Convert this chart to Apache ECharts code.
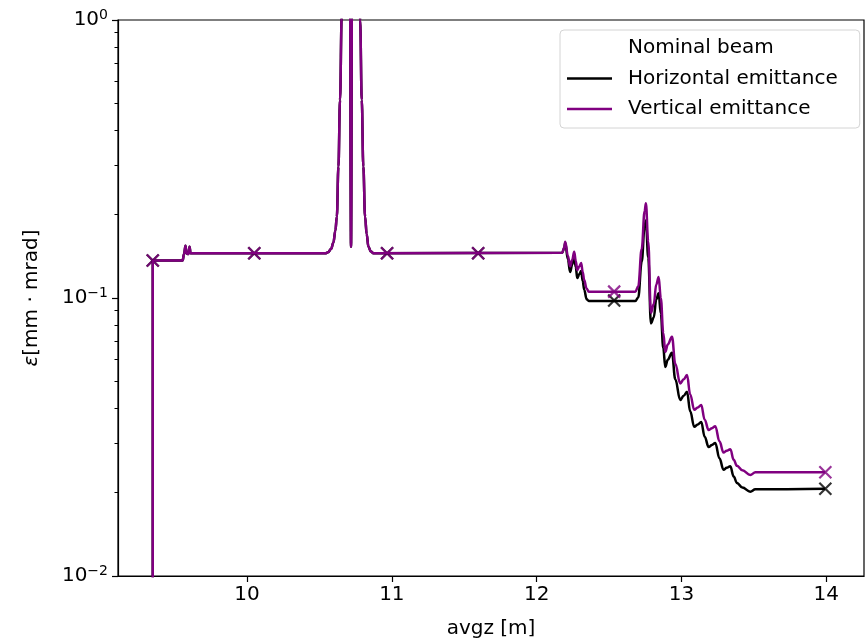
<!DOCTYPE html>
<html>
<head>
<meta charset="utf-8">
<script src="https://cdn.jsdelivr.net/npm/echarts@6/dist/echarts.min.js"></script>
<style>html,body{margin:0;padding:0;background:#fff}#c{width:867px;height:640px}</style>
</head>
<body>
<div id="c"></div>
<script>
// Shared z positions (m) before the two emittances separate
const zShared = [9.349, 9.349, 9.555, 9.565, 9.575, 9.582, 9.595, 9.603, 9.610,
  10.540, 10.560, 10.580, 10.596, 10.610, 10.620, 10.631, 10.642, 10.654, 10.665, 10.700,
  10.709, 10.718, 10.727, 10.770, 10.781, 10.792, 10.803, 10.815, 10.826, 10.838, 10.855, 10.873,
  12.176];
const epsShared = [0.001, 0.1364, 0.1364, 0.1440, 0.1540, 0.1445, 0.1440, 0.1530, 0.1448,
  0.1448, 0.1460, 0.150, 0.158, 0.175, 0.196, 0.297, 0.515, 1.05, 2.5, 3.0,
  3.0, 0.153, 3.0, 2.5, 1.0, 0.515, 0.297, 0.196, 0.170, 0.153, 0.147, 0.1448,
  0.1455];

// Region where horizontal and vertical emittance differ
const zSplit = [12.190, 12.197, 12.215, 12.231, 12.245, 12.259, 12.270, 12.280, 12.295, 12.307,
  12.318, 12.328, 12.345, 12.360, 12.681, 12.701, 12.725, 12.745, 12.754, 12.770,
  12.789, 12.808, 12.826, 12.842, 12.857, 12.874, 12.888, 12.905, 12.934, 12.957,
  12.991, 13.015, 13.038, 13.060, 13.088, 13.112, 13.136, 13.160, 13.187, 13.210,
  13.233, 13.262, 13.290, 13.312, 13.337, 13.360, 13.383, 13.420, 13.475, 13.510, 13.993];
const epsHSplit = [0.151, 0.158, 0.138, 0.124, 0.132, 0.141, 0.129, 0.118, 0.122, 0.125,
  0.115, 0.107, 0.099, 0.0975, 0.0975, 0.1005, 0.135, 0.180, 0.190, 0.140,
  0.081, 0.085, 0.099, 0.104, 0.088, 0.066, 0.0565, 0.060, 0.0635, 0.051,
  0.0430, 0.0445, 0.0460, 0.0391, 0.0344, 0.0351, 0.0358, 0.0317, 0.0291, 0.0296,
  0.0301, 0.0265, 0.0241, 0.0245, 0.0248, 0.0228, 0.0216, 0.0208, 0.0201, 0.0205, 0.0206];
const epsVSplit = [0.152, 0.1594, 0.142, 0.130, 0.137, 0.1467, 0.136, 0.126, 0.130, 0.1336,
  0.124, 0.116, 0.108, 0.1054, 0.1054, 0.110, 0.150, 0.205, 0.219, 0.160,
  0.0883, 0.095, 0.112, 0.119, 0.100, 0.075, 0.064, 0.068, 0.0726, 0.058,
  0.0493, 0.0510, 0.0528, 0.0450, 0.0396, 0.0404, 0.0412, 0.0365, 0.0335, 0.0340,
  0.0346, 0.0305, 0.0278, 0.0282, 0.0286, 0.0262, 0.0249, 0.0240, 0.0231, 0.0236, 0.0236];

// Marker (x) positions
const markerZ = [9.349, 10.050, 10.967, 11.596, 12.535, 13.993];
const markerH = [0.1364, 0.1448, 0.1448, 0.1448, 0.098, 0.0206];
const markerV = [0.1364, 0.1448, 0.1448, 0.1448, 0.1054, 0.0236];

const xTicks = [10, 11, 12, 13, 14];
const yMinorTicks = [0.02, 0.03, 0.04, 0.05, 0.06, 0.07, 0.08, 0.09,
  0.2, 0.3, 0.4, 0.5, 0.6, 0.7, 0.8, 0.9];

const seriesNames = ['Nominal beam', 'Horizontal emittance', 'Vertical emittance'];

function pairs(xs, ys) { return xs.map((x, i) => [x, ys[i]]); }
const dataH = pairs(zShared, epsShared).concat(pairs(zSplit, epsHSplit));
const dataV = pairs(zShared, epsShared).concat(pairs(zSplit, epsVSplit));

const FONT = 'DejaVu Sans';
const FS = 20;
const xMark = 'path://M0,0L10,10M10,0L0,10';

const chart = echarts.init(document.getElementById('c'), null, {renderer: 'canvas'});
chart.setOption({
  animation: false,
  backgroundColor: '#fff',
  grid: {left: 118, right: 3, top: 20, bottom: 64, containLabel: false, outerBoundsMode: 'none',
    show: true, borderColor: '#000', borderWidth: 1.2, backgroundColor: 'transparent'},
  legend: {
    orient: 'vertical', left: 560, top: 30,
    padding: [8, 22, 9, 7],
    itemWidth: 45, itemHeight: 2.5, itemGap: 10.5, icon: 'rect',
    backgroundColor: 'rgba(255,255,255,0.8)', borderColor: '#d4d4d4', borderWidth: 1, borderRadius: 4,
    textStyle: {fontFamily: FONT, fontSize: FS, color: '#000', padding: [0, 0, 0, 11]},
    data: [
      {name: seriesNames[0], itemStyle: {opacity: 0}},
      {name: seriesNames[1]},
      {name: seriesNames[2]}
    ]
  },
  xAxis: {
    type: 'value', min: 9.109, max: 14.26,
    name: 'avgz [m]', nameLocation: 'middle', nameGap: 43,
    nameTextStyle: {fontFamily: FONT, fontSize: FS, color: '#000'},
    axisLine: {lineStyle: {color: '#000', width: 1.2}},
    axisTick: {length: 6, lineStyle: {color: '#000', width: 1.2}, customValues: xTicks},
    axisLabel: {fontFamily: FONT, fontSize: FS, color: '#000', margin: 9, customValues: xTicks},
    splitLine: {show: false}
  },
  yAxis: [{
    type: 'log', logBase: 10, min: 0.01, max: 1,
    name: '{e|ε}[mm · mrad]', nameLocation: 'middle', nameGap: 76, nameRotate: 90,
    nameTextStyle: {fontFamily: FONT, fontSize: FS, color: '#000',
      rich: {e: {fontFamily: FONT, fontSize: FS, fontStyle: 'italic', color: '#000'}}},
    axisLine: {show: true, lineStyle: {color: '#000', width: 1.2}},
    axisTick: {length: 6, lineStyle: {color: '#000', width: 1.2}},
    splitLine: {show: false},
    axisLabel: {
      margin: 10, color: '#000',
      formatter: function (v) {
        const e = Math.round(Math.log10(v));
        return '{b|10}{s|' + (e < 0 ? '\u2212' + (-e) : e) + '}';
      },
      rich: {
        b: {fontFamily: FONT, fontSize: FS, color: '#000'},
        s: {fontFamily: FONT, fontSize: 14, color: '#000', padding: [0, 0, 10, 0]}
      }
    }
  }, {
    type: 'log', logBase: 10, min: 0.01, max: 1, position: 'left',
    axisLine: {show: false},
    axisTick: {show: true, length: 3.5, lineStyle: {color: '#000', width: 1}, customValues: yMinorTicks},
    axisLabel: {show: false},
    splitLine: {show: false}
  }],
  series: [
    {name: seriesNames[0], type: 'line', data: [], showSymbol: false, lineStyle: {color: 'rgba(0,0,0,0)'}, itemStyle: {color: 'rgba(0,0,0,0)'}},
    {name: seriesNames[1], type: 'line', data: dataH, showSymbol: false, clip: true,
      smooth: 0.4, smoothMonotone: 'x',
      lineStyle: {color: '#000000', width: 2.5}, itemStyle: {color: '#000000'}},
    {name: seriesNames[2], type: 'line', data: dataV, showSymbol: false, clip: true,
      smooth: 0.4, smoothMonotone: 'x',
      lineStyle: {color: '#800080', width: 2.5}, itemStyle: {color: '#800080'}},
    {name: 'H markers', type: 'scatter', data: pairs(markerZ, markerH), symbol: xMark, symbolSize: 12,
      itemStyle: {color: 'none', borderColor: '#000000', borderWidth: 2.2}},
    {name: 'V markers', type: 'scatter', data: pairs(markerZ, markerV), symbol: xMark, symbolSize: 12,
      itemStyle: {color: 'none', borderColor: '#800080', borderWidth: 2.2}}
  ]
});
</script>
</body>
</html>
